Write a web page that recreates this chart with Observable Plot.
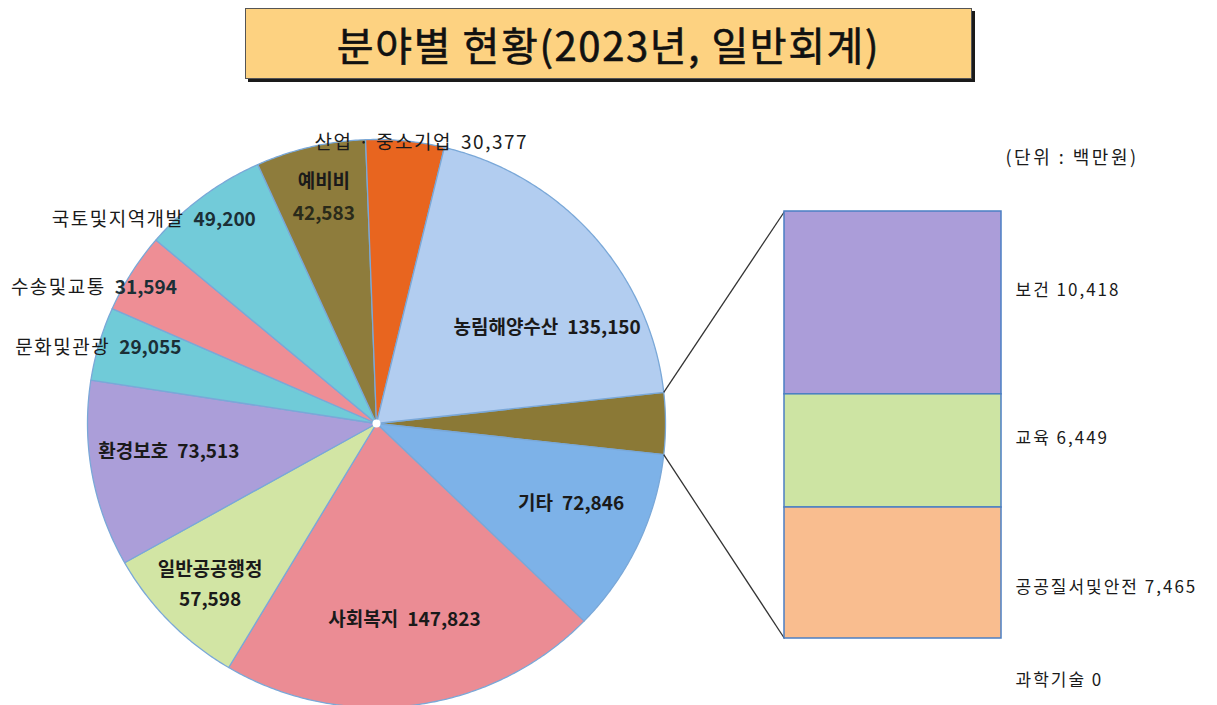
<!DOCTYPE html>
<html>
<head>
<meta charset="utf-8">
<script src="https://cdn.jsdelivr.net/npm/d3@7"></script>
<script src="https://cdn.jsdelivr.net/npm/@observablehq/plot@0.6"></script>
<style>
  html, body { margin: 0; padding: 0; background: #fff; }
  #wrap { position: relative; width: 1217px; height: 705px; overflow: hidden; font-family: "Noto Sans CJK KR", "Noto Sans", sans-serif; }
  #title { position: absolute; left: 245px; top: 8px; width: 727px; height: 71px; box-sizing: border-box;
    background: #fdd281; border: 1.5px solid #555; box-shadow: 3px 3px 0 #1a1a1a;
    display: flex; align-items: center; justify-content: center;
    font-size: 40px; font-weight: 400; -webkit-text-stroke: 0.6px #111; color: #111; letter-spacing: 1.6px; }
  #chart { position: absolute; left: 0; top: 92px; }
</style>
</head>
<body>
<div id="wrap">
  <div id="title">분야별 현황(2023년, 일반회계)</div>
  <div id="chart"></div>
</div>
<script>
// ---------------- data ----------------
const pieNames  = ["기타", "사회복지", "일반공공행정", "환경보호", "문화및관광", "수송및교통", "국토및지역개발", "예비비", "산업 · 중소기업", "농림해양수산"];
const pieValues = [72846, 147823, 57598, 73513, 29055, 31594, 49200, 42583, 30377, 135150];
const pieColors = ["#7db2e8", "#eb8c94", "#d2e5a4", "#ab9ed9", "#70cbd8", "#ee8e95", "#72cbd9", "#8e7c3c", "#e8651f", "#b2cdf0"];
const barNames  = ["보건", "교육", "공공질서및안전", "과학기술"];
const barValues = [10418, 6449, 7465, 0];
const barColors = ["#ab9dd9", "#cde4a3", "#f9bd8f", "#8fb8e4"];
const otherColor = "#8b7936";
const unitLabel = "(단위 : 백만원)";

// ---------------- layout / style ----------------
const FONT = '"Noto Sans CJK KR", "Noto Sans", sans-serif';
const W = 1217, H = 613, TOP = 92;
const cx = 376, cy = 423, rx = 289, ry = 284;
const barBox = {x1: 784, x2: 1001, top: 211, bottom: 638};
const dark = "#1a1a1a", teal = "#1b2f36";
const LS_NORMAL = 1.5, LS_BAR = 2, LS_UNIT = 2.5;
// k: radial fraction, da: angle nudge (deg), align, two-line, weights
const pieLabelLayout = {
  "기타":          {k: 0.73, da: -2.5, align: "middle", nw: 700, vw: 700, vf: dark},
  "사회복지":      {k: 0.70, da: -0.4, align: "middle", nw: 700, vw: 700, vf: dark},
  "일반공공행정":  {k: 0.81, da: -0.4, align: "middle", nw: 700, vw: 700, vf: dark, two: 15},
  "환경보호":      {k: 0.725, da: 2.5, align: "middle", nw: 700, vw: 700, vf: dark},
  "문화및관광":    {k: 0.725, da: 5.1, align: "end", nw: 400, vw: 700, vf: teal},
  "수송및교통":    {k: 0.84, da: 2.7, align: "end", nw: 400, vw: 700, vf: teal},
  "국토및지역개발":{k: 0.83, da: 6.8, align: "end", nw: 400, vw: 700, vf: teal},
  "예비비":        {k: 0.815, da: 0.3, align: "middle", nw: 700, vw: 700, vf: "#2a2a1a", two: 16},
  "산업 · 중소기업":{k: 1.0, da: 3.2, align: "middle", nw: 400, vw: 400, vf: dark},
  "농림해양수산":  {k: 0.68, da: 11.6, align: "middle", nw: 700, vw: 700, vf: dark}
};
const barLabelDy = [-12, -12, 15, 42];

const fmt = d3.format(",");
const ctx = document.createElement("canvas").getContext("2d");
function tw(text, size, weight) {
  ctx.font = `${weight} ${size}px ${FONT}`;
  return ctx.measureText(text).width + (weight === 400 ? LS_NORMAL * text.length : 0);
}

// ---------------- pie geometry ----------------
const otherValue = d3.sum(barValues);
const slices = [{name: "__other", value: otherValue, color: otherColor}]
  .concat(pieNames.map((n, i) => ({name: n, value: pieValues[i], color: pieColors[i]})));
const total = d3.sum(slices, d => d.value);
const otherSpan = otherValue / total * 2 * Math.PI;
const a0 = Math.PI / 2 - otherSpan / 2;
const arcs = d3.pie().sort(null).value(d => d.value).startAngle(a0).endAngle(a0 + 2 * Math.PI)(slices);
const pt = (a, k = 1) => [cx + k * rx * Math.sin(a), cy - k * ry * Math.cos(a)];

const polyPts = arcs.flatMap(a => {
  const n = Math.max(2, Math.ceil((a.endAngle - a.startAngle) / (Math.PI / 360)));
  const pts = [[cx, cy]];
  for (let j = 0; j <= n; j++) pts.push(pt(a.startAngle + (a.endAngle - a.startAngle) * j / n));
  pts.push([cx, cy]);
  return pts.map(([x, y]) => ({x, y, name: a.data.name, color: a.data.color}));
});

// pie labels
const PS = 19, GAP = 9;
const labelRows = [];
arcs.forEach(a => {
  const L = pieLabelLayout[a.data.name];
  if (!L) return;
  const ang = (a.startAngle + a.endAngle) / 2 + L.da * Math.PI / 180;
  const [x, y] = pt(ang, L.k);
  const name = a.data.name, val = fmt(a.data.value);
  const wn = tw(name, PS, L.nw), wv = tw(val, PS, L.vw);
  if (L.two) {
    labelRows.push({x: x - wn / 2, y: y - L.two, text: name, weight: L.nw, fill: dark});
    labelRows.push({x: x - wv / 2, y: y + L.two, text: val, weight: L.vw, fill: L.vf});
  } else {
    const tot = wn + GAP + wv;
    const x0 = L.align === "middle" ? x - tot / 2 : L.align === "end" ? x - tot : x;
    labelRows.push({x: x0, y, text: name, weight: L.nw, fill: dark});
    labelRows.push({x: x0 + wn + GAP, y, text: val, weight: L.vw, fill: L.vf});
  }
});

// ---------------- bar geometry ----------------
const barY = d3.scaleLinear().domain([0, otherValue]).range([barBox.top, barBox.bottom]);
let cum = 0;
const barRects = barNames.map((n, i) => {
  const y1 = barY(cum); cum += barValues[i];
  return {name: n, value: barValues[i], color: barColors[i], x1: barBox.x1, x2: barBox.x2, y1, y2: barY(cum)};
});
const BS = 17;
const barLabels = barRects.map((d, i) => ({x: barBox.x2 + 14, y: (d.y1 + d.y2) / 2 + barLabelDy[i], text: `${d.name} ${fmt(d.value)}`}));

const otherArc = arcs[0];
const [tx, ty] = pt(otherArc.startAngle), [bx, by] = pt(otherArc.endAngle);
const connectors = [
  {x1: tx, y1: ty, x2: barBox.x1, y2: barRects[0].y1},
  {x1: bx, y1: by, x2: barBox.x1, y2: barRects[barRects.length - 1].y2}
];

const chart = Plot.plot({
  width: W, height: H, margin: 0,
  x: {domain: [0, W], range: [0, W], axis: null},
  y: {domain: [TOP, TOP + H], range: [0, H], axis: null},
  color: {type: "identity"},
  style: {fontFamily: FONT, background: "transparent", overflow: "visible"},
  marks: [
    Plot.line(polyPts, {x: "x", y: "y", z: "name", fill: "color", stroke: "#7aa8d8", strokeWidth: 1.3, strokeLinejoin: "round"}),
    Plot.dot([{x: cx, y: cy}], {x: "x", y: "y", r: 4, fill: "white", stroke: "none"}),
    Plot.link(connectors, {x1: "x1", y1: "y1", x2: "x2", y2: "y2", stroke: "#333", strokeWidth: 1.3}),
    Plot.rect(barRects.filter(d => d.value > 0), {x1: "x1", x2: "x2", y1: "y1", y2: "y2", fill: "color", stroke: "#4b7fc3", strokeWidth: 1.5}),
    Plot.text(labelRows.filter(d => d.weight === 400), {x: "x", y: "y", text: "text", fill: "fill", textAnchor: "start", fontSize: PS, fontWeight: 400}),
    Plot.text(labelRows.filter(d => d.weight === 700), {x: "x", y: "y", text: "text", fill: "fill", textAnchor: "start", fontSize: PS, fontWeight: 700}),
    Plot.text(barLabels, {x: "x", y: "y", text: "text", fill: dark, textAnchor: "start", fontSize: BS, fontWeight: 400}),
    Plot.text([unitLabel], {x: () => 1005, y: () => 158, text: d => d, fill: dark, textAnchor: "start", fontSize: 18, fontWeight: 400})
  ]
});
// text mark groups in order: normal pie labels, bold pie labels, bar labels, unit label
const textGroups = chart.querySelectorAll('g[aria-label="text"]');
const spacingByGroup = [LS_NORMAL, 0, LS_BAR, LS_UNIT];
textGroups.forEach((g, i) => {
  const ls = spacingByGroup[i];
  if (ls) { g.setAttribute("letter-spacing", ls); g.querySelectorAll("text").forEach(t => t.setAttribute("letter-spacing", ls)); }
});
document.getElementById("chart").appendChild(chart);
</script>
</body>
</html>
